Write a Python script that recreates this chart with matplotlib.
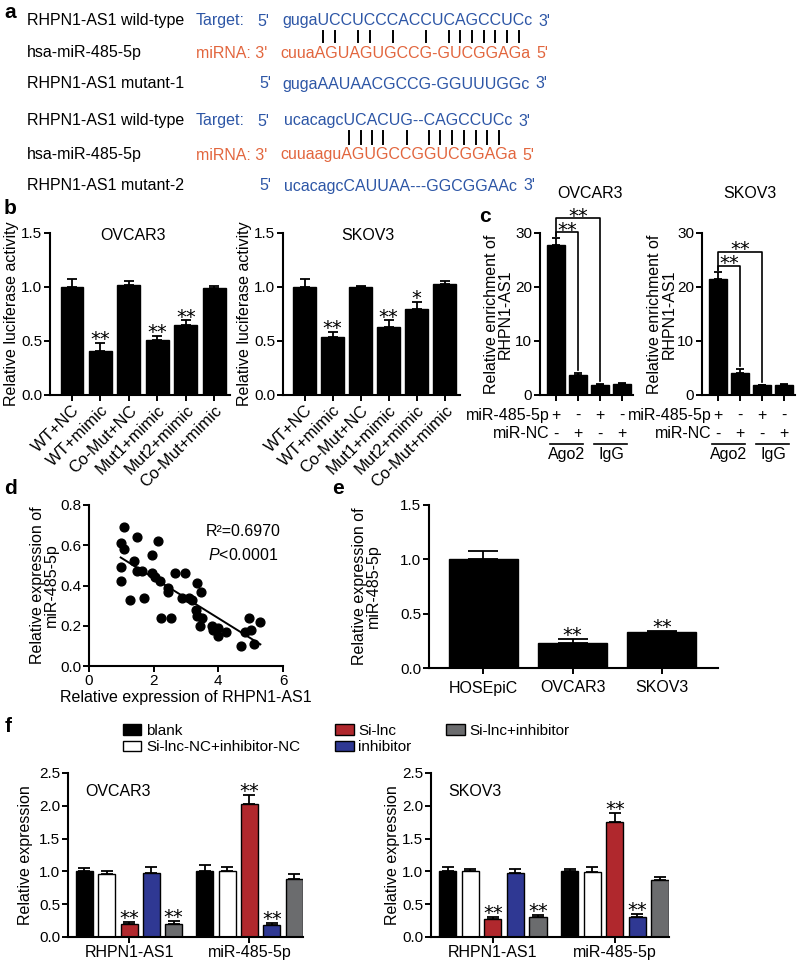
import numpy as np
import matplotlib
matplotlib.use("Agg")
import matplotlib.pyplot as plt
from matplotlib.lines import Line2D
from matplotlib.patches import Patch
from matplotlib.font_manager import FontProperties

plt.rcParams['font.family'] = ['Liberation Sans', 'DejaVu Sans']
plt.rcParams['font.size'] = 11
plt.rcParams['mathtext.fontset'] = 'custom'
plt.rcParams['mathtext.rm'] = 'Liberation Sans'
plt.rcParams['mathtext.it'] = 'Liberation Sans:italic'

W, H = 800, 966

# ---- panel a: sequences
a_names = ['RHPN1-AS1 wild-type', 'hsa-miR-485-5p', 'RHPN1-AS1 mutant-1',
           'RHPN1-AS1 wild-type', 'hsa-miR-485-5p', 'RHPN1-AS1 mutant-2']
a_kinds = ['target', 'mirna', 'mutant', 'target', 'mirna', 'mutant']
a_seqs = ['gugaUCCUCCCACCUCAGCCUCc', 'cuuaAGUAGUGCCG-GUCGGAGa', 'gugaAAUAACGCCG-GGUUUGGc',
          'ucacagcUCACUG--CAGCCUCc', 'cuuaaguAGUGCCGGUCGGAGa', 'ucacagcCAUUAA---GGCGGAAc']
a_pairs = [[4, 5, 7, 8, 10, 13, 15, 16, 17, 18, 19, 20, 21],
           [7, 8, 9, 10, 12, 15, 16, 17, 18, 19, 20, 21]]

# ---- panel b: luciferase
b_labels = ['WT+NC', 'WT+mimic', 'Co-Mut+NC', 'Mut1+mimic', 'Mut2+mimic', 'Co-Mut+mimic']
b_ovcar3 = [1.00, 0.41, 1.02, 0.51, 0.65, 0.99]
b_ovcar3_err = [0.07, 0.07, 0.04, 0.04, 0.04, 0.02]
b_ovcar3_sig = ['', '**', '', '**', '**', '']
b_skov3 = [1.00, 0.54, 1.00, 0.63, 0.80, 1.03]
b_skov3_err = [0.07, 0.04, 0.01, 0.06, 0.06, 0.03]
b_skov3_sig = ['', '**', '', '**', '*', '']

# ---- panel c: RIP
c_mir = ['+', '-', '+', '-']
c_nc = ['-', '+', '-', '+']
c_ovcar3 = [27.8, 3.7, 1.85, 2.0]
c_ovcar3_err = [1.2, 0.4, 0.15, 0.15]
c_skov3 = [21.5, 4.1, 1.8, 1.9]
c_skov3_err = [1.3, 0.7, 0.1, 0.15]

# ---- panel d: correlation
d_x = [1.08, 0.98, 1.09, 0.98, 0.98, 1.48, 1.38, 1.27, 1.48, 1.63, 1.71, 1.95, 2.13, 1.95,
       2.05, 2.21, 2.24, 2.45, 2.45, 2.54, 2.66, 2.88, 2.97, 3.09, 3.18, 3.33, 3.32, 3.46,
       3.33, 3.51, 3.44, 3.80, 3.82, 3.98, 3.98, 4.24, 4.71, 4.81, 4.95, 5.02, 5.10, 5.30]
d_y = [0.69, 0.61, 0.58, 0.49, 0.42, 0.64, 0.52, 0.33, 0.47, 0.47, 0.34, 0.55, 0.62, 0.46,
       0.44, 0.42, 0.24, 0.39, 0.37, 0.24, 0.46, 0.34, 0.46, 0.34, 0.33, 0.41, 0.28, 0.37,
       0.25, 0.24, 0.20, 0.20, 0.18, 0.19, 0.15, 0.17, 0.10, 0.17, 0.24, 0.18, 0.11, 0.22]

# ---- panel e
e_labels = ['HOSEpiC', 'OVCAR3', 'SKOV3']
e_vals = [1.00, 0.23, 0.33]
e_err = [0.08, 0.04, 0.015]
e_sig = ['', '**', '**']

# ---- panel f
f_groups = ['RHPN1-AS1', 'miR-485-5p']
f_series = ['blank', 'Si-lnc-NC+inhibitor-NC', 'Si-lnc', 'inhibitor', 'Si-lnc+inhibitor']
f_colors = ['black', 'white', '#b0282d', '#2f3893', '#6b6c6e']
f_ovcar3 = [[1.00, 1.01], [0.96, 1.00], [0.20, 2.02], [0.97, 0.19], [0.20, 0.89]]
f_ovcar3_err = [[0.05, 0.08], [0.05, 0.07], [0.025, 0.14], [0.10, 0.03], [0.04, 0.07]]
f_ovcar3_sig = [['', ''], ['', ''], ['**', '**'], ['', '**'], ['**', '']]
f_skov3 = [[1.00, 1.00], [1.00, 0.99], [0.27, 1.76], [0.98, 0.30], [0.30, 0.87]]
f_skov3_err = [[0.07, 0.03], [0.03, 0.07], [0.035, 0.13], [0.05, 0.05], [0.035, 0.05]]
f_skov3_sig = [['', ''], ['', ''], ['**', '**'], ['', '**'], ['**', '']]

fig = plt.figure(figsize=(W / 100, H / 100), dpi=100)
renderer = fig.canvas.get_renderer()


def fx(px):
    return px / W


def fy(py):
    return 1 - py / H


def ftext(x, y, s, **kw):
    kw.setdefault('va', 'center')
    return fig.text(fx(x), fy(y), s, **kw)


def add_ax(x0, y0, x1, y1):
    ax = fig.add_axes([fx(x0), fy(y1), (x1 - x0) / W, (y1 - y0) / H])
    for s in ['top', 'right']:
        ax.spines[s].set_visible(False)
    for s in ['left', 'bottom']:
        ax.spines[s].set_linewidth(1.5)
    ax.tick_params(direction='out', length=4, width=1.4, pad=1.5, labelsize=11)
    return ax


def bars(ax, x, vals, err, color='black', width=0.8, capsize=3.5):
    ax.bar(x, vals, width=width, color=color, edgecolor='black', linewidth=1.0, zorder=2)
    ax.errorbar(x, vals, yerr=[np.zeros(len(err)), err], fmt='none', ecolor='black',
                elinewidth=1.3, capsize=capsize, capthick=1.3, zorder=1)


def stars(ax, x, vals, err, sig):
    for xi, v, e, s in zip(x, vals, err, sig):
        if s:
            ax.annotate(s, (xi, v + e), xytext=(0, -1.5), textcoords='offset points',
                        ha='center', va='baseline', fontsize=14, family='DejaVu Sans',
                        annotation_clip=False)


# ================= panel a =================
a_size = 11.5
blue = '#2d56a6'
orange = '#e2663e'
a_prop = FontProperties(family='Liberation Sans', size=a_size)
rows_y = [21, 53, 84, 121, 155, 186]
seq_x = [282, 280, 282, 284, 280, 284]
ftext(4, 12, 'a', fontsize=15, fontweight='bold')
for i, (name, kind, seq) in enumerate(zip(a_names, a_kinds, a_seqs)):
    y = rows_y[i]
    ftext(27, y, name, fontsize=a_size)
    c = orange if kind == 'mirna' else blue
    if kind == 'target':
        ftext(196, y, 'Target:', fontsize=a_size, color=blue)
        ftext(257, y, "5'", fontsize=a_size, color=blue)
        end = "3'"
    elif kind == 'mirna':
        ftext(196, y, "miRNA: 3'", fontsize=a_size, color=orange)
        end = "5'"
    else:
        ftext(259, y, "5'", fontsize=a_size, color=blue)
        end = "3'"
    ftext(seq_x[i], y, seq, fontsize=a_size, color=c)
    w = renderer.get_text_width_height_descent(seq, a_prop, ismath=False)[0]
    ftext(seq_x[i] + w + 6, y, end, fontsize=a_size, color=c)

# base-pair ticks between target and miRNA rows
for blk, pairs in enumerate(a_pairs):
    seq = a_seqs[blk * 3]
    x0 = seq_x[blk * 3]
    yt = rows_y[blk * 3] + 10
    yb = rows_y[blk * 3 + 1] - 11
    for k in pairs:
        pre = renderer.get_text_width_height_descent(seq[:k], a_prop, ismath=False)[0] if k else 0
        cw = renderer.get_text_width_height_descent(seq[k], a_prop, ismath=False)[0]
        xc = x0 + pre + cw / 2
        fig.add_artist(Line2D([fx(xc), fx(xc)], [fy(yt), fy(yb)], transform=fig.transFigure,
                              color='black', lw=1.4))

# ================= panel b =================
ftext(4, 209, 'b', fontsize=15, fontweight='bold')
xb = np.arange(len(b_labels))
for (x0, x1), vals, err, sig, title, tx, lab_x in [
        ((50, 230), b_ovcar3, b_ovcar3_err, b_ovcar3_sig, 'OVCAR3', 133, -0.17),
        ((283, 460), b_skov3, b_skov3_err, b_skov3_sig, 'SKOV3', 368, -0.175)]:
    ax = add_ax(x0, 233, x1, 395)
    bars(ax, xb, vals, err, width=0.8, capsize=3.5)
    stars(ax, xb, vals, err, sig)
    ax.set_xlim(-0.77, 5.55)
    ax.set_ylim(0, 1.5)
    ax.set_yticks([0, 0.5, 1.0, 1.5])
    ax.set_yticklabels(['0.0', '0.5', '1.0', '1.5'])
    ax.set_xticks(xb)
    ax.set_xticklabels(b_labels, rotation=45, ha='right', rotation_mode='anchor', fontsize=12)
    ax.set_ylabel('Relative luciferase activity', fontsize=11.5)
    ax.yaxis.set_label_coords(lab_x, 0.5)
    ftext(tx, 236, title, fontsize=11.5, ha='center')

# ================= panel c =================
ftext(479, 216, 'c', fontsize=15, fontweight='bold')
xc = np.arange(4)
for (x0, x1), vals, err, title, tx, lab_x in [
        ((540, 633), c_ovcar3, c_ovcar3_err, 'OVCAR3', 590, -0.29),
        ((702, 795), c_skov3, c_skov3_err, 'SKOV3', 750, -0.27)]:
    ax = add_ax(x0, 233, x1, 395)
    bars(ax, xc, vals, err, width=0.84, capsize=3)
    ax.set_xlim(-0.72, 3.5)
    ax.set_ylim(0, 30)
    ax.set_yticks([0, 10, 20, 30])
    ax.set_xticks(xc)
    ax.set_xticklabels([])
    ax.set_ylabel('Relative enrichment of\nRHPN1-AS1', fontsize=11.5, linespacing=0.95)
    ax.yaxis.set_label_coords(lab_x, 0.5)
    ftext(tx, 193, title, fontsize=11.5, ha='center')
    # significance brackets
    top0 = vals[0] + err[0]
    inner = top0 + 1.1
    outer = inner + 2.6
    for j, yb in [(1, inner), (2, outer)]:
        ax.plot([xc[0], xc[0], xc[j], xc[j]],
                [top0 + 0.4, yb, yb, vals[j] + err[j] + 0.6],
                color='black', lw=1.2, clip_on=False)
        ax.annotate('**', ((xc[0] + xc[j]) / 2, yb), xytext=(0, -2.5), textcoords='offset points',
                    ha='center', va='baseline', fontsize=14, family='DejaVu Sans',
                    annotation_clip=False)
    tr = ax.get_xaxis_transform()
    ax.text(-0.3, -0.125, 'miR-485-5p', transform=tr, ha='right', va='center', fontsize=11.5)
    ax.text(-0.3, -0.24, 'miR-NC', transform=tr, ha='right', va='center', fontsize=11.5)
    for xi, p, n in zip(xc, c_mir, c_nc):
        ax.text(xi, -0.125, p, transform=tr, ha='center', va='center', fontsize=11.5)
        ax.text(xi, -0.24, n, transform=tr, ha='center', va='center', fontsize=11.5)
    for (a0, a1), name in [((xc[0], xc[1]), 'Ago2'), ((xc[2], xc[3]), 'IgG')]:
        ax.plot([a0 - 0.25, a1 + 0.25], [-0.30, -0.30], transform=tr, color='black',
                lw=1.2, clip_on=False)
        ax.text((a0 + a1) / 2, -0.37, name, transform=tr, ha='center', va='center',
                fontsize=11.5)

# ================= panel d =================
ftext(4, 489, 'd', fontsize=15, fontweight='bold')
ax = add_ax(89, 505, 283, 666)
ax.scatter(d_x, d_y, s=40, color='black', zorder=3, clip_on=False)
k, b0 = np.polyfit(d_x, d_y, 1)
xl = np.array([min(d_x), max(d_x)])
ax.plot(xl, k * xl + b0, color='black', lw=1.4)
ax.set_xlim(0, 6)
ax.set_ylim(0, 0.8)
ax.set_xticks([0, 2, 4, 6])
ax.set_yticks([0, 0.2, 0.4, 0.6, 0.8])
ax.set_yticklabels(['0.0', '0.2', '0.4', '0.6', '0.8'])
ax.set_xlabel('Relative expression of RHPN1-AS1', fontsize=11.5, labelpad=2)
ax.set_ylabel('Relative expression of\nmiR-485-5p', fontsize=11.5, linespacing=0.95)
ax.yaxis.set_label_coords(-0.155, 0.5)
ftext(243, 532, 'R\u00b2=0.6970', fontsize=11.5, ha='center')
ftext(243, 555, '$\\it{P}$<0.0001', fontsize=11.5, ha='center')

# ================= panel e =================
ftext(332, 489, 'e', fontsize=15, fontweight='bold')
ax = add_ax(429, 505, 718, 668)
xe = np.arange(len(e_labels))
bars(ax, xe, e_vals, e_err, width=0.77, capsize=11)
stars(ax, xe, e_vals, e_err, e_sig)
ax.set_xlim(-0.61, 2.63)
ax.set_ylim(0, 1.5)
ax.set_yticks([0, 0.5, 1.0, 1.5])
ax.set_yticklabels(['0.0', '0.5', '1.0', '1.5'])
ax.set_xticks(xe)
ax.set_xticklabels(e_labels, fontsize=11.5)
ax.tick_params(axis='x', pad=5)
ax.set_ylabel('Relative expression of\nmiR-485-5p', fontsize=11.5, linespacing=0.95)
ax.yaxis.set_label_coords(-0.166, 0.5)

# ================= panel f =================
ftext(5, 727, 'f', fontsize=15, fontweight='bold')
group_pos = np.array([0, 5.4])
offsets = [-2, -1, 0, 1, 2]
for (x0, x1), vals, err, sig, title, tx, lab_x in [
        ((68, 303), f_ovcar3, f_ovcar3_err, f_ovcar3_sig, 'OVCAR3', 85, -0.149),
        ((431, 669), f_skov3, f_skov3_err, f_skov3_sig, 'SKOV3', 448, -0.13)]:
    ax = add_ax(x0, 773, x1, 937)
    for si in range(len(f_series)):
        xs = group_pos + offsets[si]
        bars(ax, xs, vals[si], err[si], color=f_colors[si], width=0.76, capsize=4)
        stars(ax, xs, vals[si], err[si], sig[si])
    ax.set_xlim(-2.74, 7.8)
    ax.set_ylim(0, 2.5)
    ax.set_yticks([0, 0.5, 1.0, 1.5, 2.0, 2.5])
    ax.set_yticklabels(['0.0', '0.5', '1.0', '1.5', '2.0', '2.5'])
    ax.set_xticks(group_pos)
    ax.set_xticklabels(f_groups, fontsize=11.5)
    ax.set_ylabel('Relative expression', fontsize=11.5)
    ax.yaxis.set_label_coords(lab_x, 0.5)
    ftext(tx, 792, title, fontsize=11.5)

handles = [Patch(facecolor=c, edgecolor='black', linewidth=1.0) for c in f_colors]
fig.legend(handles, f_series, ncol=3, loc='upper left',
           bbox_to_anchor=(fx(123), fy(724)), frameon=False, fontsize=11,
           handlelength=1.2, handleheight=0.7, handletextpad=0.3, columnspacing=2.3,
           labelspacing=0.15, borderpad=0, borderaxespad=0)

fig.savefig('out.png', dpi=100)
